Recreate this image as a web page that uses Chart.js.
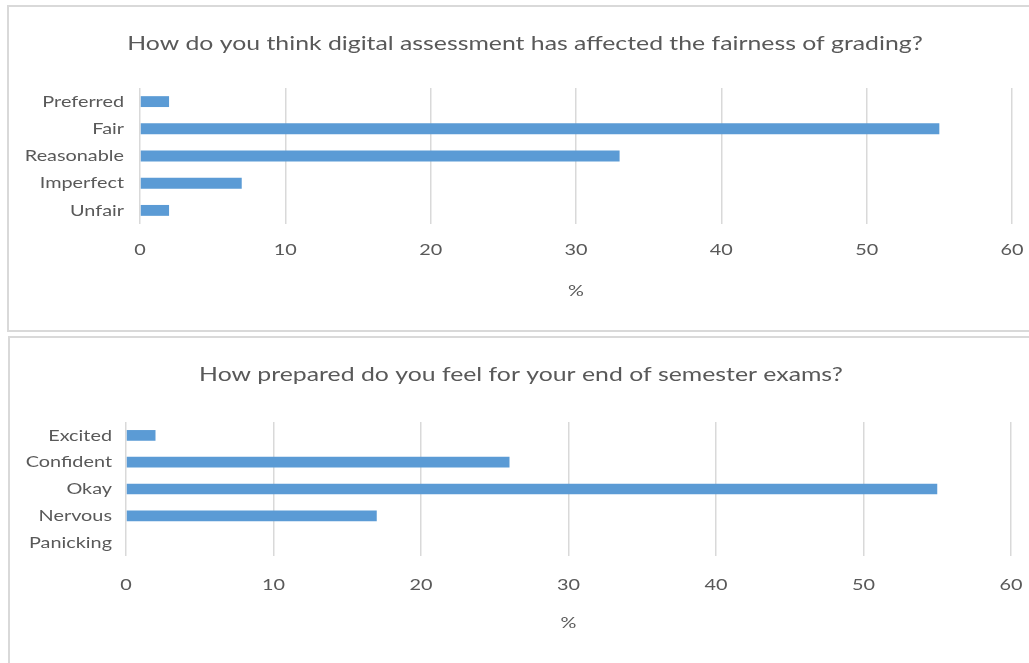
<!DOCTYPE html>
<html>
<head>
<meta charset="utf-8">
<script src="https://cdn.jsdelivr.net/npm/chart.js@4.4.0/dist/chart.umd.min.js"></script>
<style>
  html, body { margin: 0; padding: 0; background: #ffffff; width: 1029px; height: 663px; overflow: hidden; }
  .box { position: absolute; box-sizing: border-box; border: 2px solid #D9D9D9; background: #ffffff; }
  canvas { position: absolute; left: 0; }
</style>
</head>
<body>
<div class="box" style="left:7px; top:5px; width:1060px; height:327px;"></div>
<div class="box" style="left:8px; top:336px; width:1060px; height:400px;"></div>
<canvas id="c1" width="1029" height="332" style="top:0px;"></canvas>
<canvas id="c2" width="1029" height="326" style="top:337px;"></canvas>
<script>
const topTitle = 'How do you think digital assessment has affected the fairness of grading?';
const topCategories = ['Preferred', 'Fair', 'Reasonable', 'Imperfect', 'Unfair'];
const topValues = [2, 55, 33, 7, 2];

const bottomTitle = 'How prepared do you feel for your end of semester exams?';
const bottomCategories = ['Excited', 'Confident', 'Okay', 'Nervous', 'Panicking'];
const bottomValues = [2, 26, 55, 17, 0];

const xTickValues = [0, 10, 20, 30, 40, 50, 60];
const xAxisTitle = '%';

const FONT = 'Lato, "Open Sans", sans-serif';
const TEXT = '#595959';
const GRID = '#D9D9D9';
const BAR = '#5B9BD5';
const TEXT_STRETCH = 1.24;

// widen glyphs horizontally around their anchor point (text stays real canvas text)
const stretchPlugin = {
  id: 'textStretch',
  beforeDraw(chart) {
    const ctx = chart.ctx;
    if (ctx.__stretched) return;
    ctx.__stretched = true;
    const orig = ctx.fillText.bind(ctx);
    ctx.__origFillText = orig;
    ctx.fillText = function (text, x, y, maxWidth) {
      ctx.save();
      ctx.translate(x, y);
      ctx.scale(TEXT_STRETCH, 1);
      if (maxWidth !== undefined) orig(text, 0, 0, maxWidth / TEXT_STRETCH);
      else orig(text, 0, 0);
      ctx.restore();
    };
  }
};

// chart title centred on the frame (the frame extends past the right edge of the page)
const frameTitlePlugin = {
  id: 'frameTitle',
  afterDraw(chart, args, opts) {
    const ctx = chart.ctx;
    ctx.save();
    ctx.font = '20px ' + FONT;
    ctx.fillStyle = TEXT;
    ctx.textAlign = 'center';
    ctx.textBaseline = 'middle';
    ctx.fillText(opts.text, opts.x, opts.y);
    ctx.restore();
  }
};

function makeChart(id, title, labels, values, cfg) {
  return new Chart(document.getElementById(id), {
    type: 'bar',
    plugins: [stretchPlugin, frameTitlePlugin],
    data: {
      labels: labels,
      datasets: [{
        data: values,
        backgroundColor: BAR,
        borderWidth: 0,
        categoryPercentage: 1,
        barPercentage: 0.4
      }]
    },
    options: {
      indexAxis: 'y',
      responsive: false,
      animation: false,
      devicePixelRatio: 1,
      layout: { padding: { left: 0, right: cfg.padRight, top: cfg.padTop, bottom: 0 } },
      plugins: {
        legend: { display: false },
        tooltip: { enabled: false },
        title: { display: false },
        frameTitle: { text: title, x: cfg.titleX, y: cfg.titleY }
      },
      scales: {
        x: {
          min: 0,
          max: 60,
          afterBuildTicks: (s) => { s.ticks = xTickValues.map(v => ({ value: v })); },
          afterFit: (s) => { s.height = cfg.xHeight; s.paddingLeft = 0; s.paddingRight = 0; },
          grid: { color: GRID, lineWidth: 1.5, drawTicks: false },
          border: { display: false },
          ticks: { color: TEXT, font: { family: FONT, size: 16 }, padding: cfg.xTickPad, maxRotation: 0 },
          title: {
            display: true,
            text: xAxisTitle,
            color: TEXT,
            font: { family: FONT, size: 16 },
            padding: { top: 0, bottom: cfg.xTitleBottom }
          }
        },
        y: {
          afterFit: (s) => { s.width = cfg.yWidth; },
          grid: { display: false, drawTicks: false },
          border: { display: false },
          ticks: { color: TEXT, font: { family: FONT, size: 16 }, padding: cfg.yTickPad }
        }
      }
    }
  });
}

makeChart('c1', topTitle, topCategories, topValues, {
  padRight: 17, padTop: 88, titleX: 525, titleY: 44, xHeight: 108, xTickPad: 16, xTitleBottom: 32, yWidth: 140, yTickPad: 16
});
makeChart('c2', bottomTitle, bottomCategories, bottomValues, {
  padRight: 18, padTop: 85, titleX: 521, titleY: 38, xHeight: 107, xTickPad: 19, xTitleBottom: 31, yWidth: 126, yTickPad: 14
});
</script>
</body>
</html>
